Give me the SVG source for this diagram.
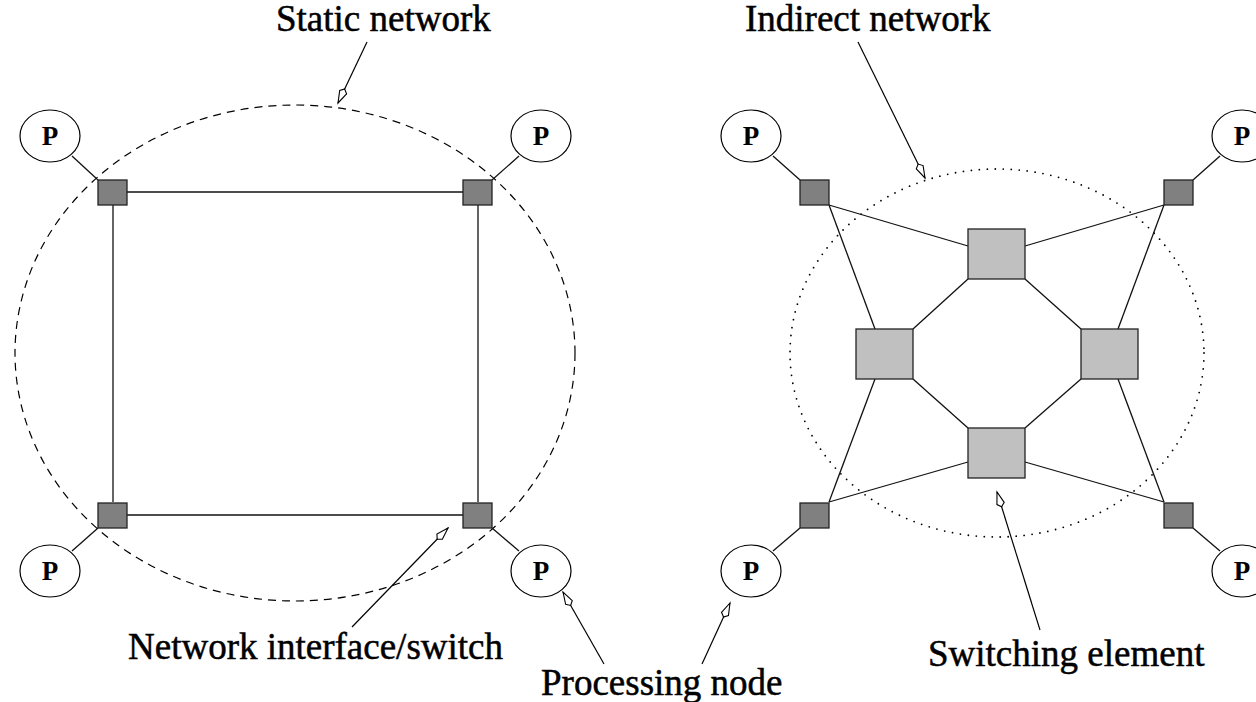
<svg xmlns="http://www.w3.org/2000/svg" width="1256" height="702" viewBox="0 0 1256 702">
  <style>
    .label { font-family: "Liberation Serif", "Times New Roman", serif; font-size: 37px; fill: #000; stroke: #000; stroke-width: 0.5; }
    .ptext { font-family: "Liberation Serif", "Times New Roman", serif; font-size: 27px; font-weight: bold; fill: #000; text-anchor: middle; }
    .proc { fill: #fff; stroke: #000; stroke-width: 1.2; }
    .iface { fill: #808080; stroke: #222; stroke-width: 1.3; }
    .switch { fill: #c0c0c0; stroke: #222; stroke-width: 1.3; }
    .link { stroke: #111; stroke-width: 1.3; fill: none; }
    .pointer { stroke: #000; stroke-width: 1.2; fill: none; marker-end: url(#kite); }
    .boundary-dashed { fill: none; stroke: #000; stroke-width: 1.2; stroke-dasharray: 8 6; }
    .boundary-dotted { fill: none; stroke: #000; stroke-width: 1.8; stroke-dasharray: 0 8; stroke-linecap: round; }
  </style>
  <defs>
    <marker id="kite" markerUnits="userSpaceOnUse" markerWidth="20" markerHeight="12" refX="0" refY="0" orient="auto" overflow="visible">
      <path d="M0,0 L-12,-3.8 L-15.5,0 L-12,3.8 Z" fill="#fff" stroke="#000" stroke-width="1.1"/>
    </marker>
  </defs>

  <rect width="1256" height="702" fill="#fff"/>

  <!-- network boundaries -->
  <g id="boundaries">
    <ellipse class="boundary-dashed" cx="295" cy="353" rx="280" ry="248"/>
    <ellipse class="boundary-dotted" cx="997" cy="353" rx="207" ry="184"/>
  </g>

  <!-- connectors -->
  <g id="connectors">
    <!-- static network: ring of interfaces -->
    <line class="link" x1="127" y1="192" x2="463" y2="192"/>
    <line class="link" x1="127" y1="515" x2="463" y2="515"/>
    <line class="link" x1="113" y1="205" x2="113" y2="502"/>
    <line class="link" x1="478" y1="205" x2="478" y2="502"/>
    <!-- static network: processors to interfaces -->
    <line class="link" x1="72" y1="156" x2="98" y2="180"/>
    <line class="link" x1="519" y1="156" x2="492" y2="180"/>
    <line class="link" x1="72" y1="551" x2="98" y2="528"/>
    <line class="link" x1="519" y1="551" x2="492" y2="528"/>

    <!-- indirect network: processors to interfaces -->
    <line class="link" x1="773" y1="156" x2="800" y2="180"/>
    <line class="link" x1="1220" y1="156" x2="1193" y2="180"/>
    <line class="link" x1="773" y1="551" x2="800" y2="528"/>
    <line class="link" x1="1220" y1="551" x2="1193" y2="528"/>
    <!-- interfaces to switching elements -->
    <line class="link" x1="829" y1="205" x2="968" y2="246"/>
    <line class="link" x1="829" y1="205" x2="875" y2="329"/>
    <line class="link" x1="1164" y1="205" x2="1025" y2="246"/>
    <line class="link" x1="1164" y1="205" x2="1118" y2="329"/>
    <line class="link" x1="829" y1="502" x2="875" y2="379"/>
    <line class="link" x1="829" y1="502" x2="968" y2="462"/>
    <line class="link" x1="1164" y1="502" x2="1118" y2="379"/>
    <line class="link" x1="1164" y1="502" x2="1025" y2="462"/>
    <!-- switching elements ring -->
    <line class="link" x1="968" y1="279" x2="913" y2="329"/>
    <line class="link" x1="913" y1="379" x2="968" y2="428"/>
    <line class="link" x1="1025" y1="428" x2="1081" y2="379"/>
    <line class="link" x1="1081" y1="329" x2="1025" y2="279"/>

    <!-- label pointers -->
    <line class="pointer" x1="367" y1="42" x2="338" y2="103"/>
    <line class="pointer" x1="352" y1="627" x2="448" y2="528"/>
    <line class="pointer" x1="604" y1="664" x2="563" y2="592"/>
    <line class="pointer" x1="702" y1="664" x2="730" y2="603"/>
    <line class="pointer" x1="858" y1="42" x2="925" y2="178"/>
    <line class="pointer" x1="1040" y1="630" x2="997" y2="492"/>
  </g>

  <!-- static network nodes -->
  <g id="static-p-tl"><ellipse class="proc" cx="50" cy="136" rx="30" ry="26"/><text class="ptext" x="50" y="145">P</text></g>
  <g id="static-p-tr"><ellipse class="proc" cx="541" cy="136" rx="30" ry="26"/><text class="ptext" x="541" y="145">P</text></g>
  <g id="static-p-bl"><ellipse class="proc" cx="50" cy="571" rx="30" ry="26"/><text class="ptext" x="50" y="580">P</text></g>
  <g id="static-p-br"><ellipse class="proc" cx="541" cy="571" rx="30" ry="26"/><text class="ptext" x="541" y="580">P</text></g>
  <g id="static-if-tl"><rect class="iface" x="98" y="180" width="29" height="25"/></g>
  <g id="static-if-tr"><rect class="iface" x="463" y="180" width="29" height="25"/></g>
  <g id="static-if-bl"><rect class="iface" x="98" y="503" width="29" height="25"/></g>
  <g id="static-if-br"><rect class="iface" x="463" y="503" width="29" height="25"/></g>

  <!-- indirect network nodes -->
  <g id="indirect-p-tl"><ellipse class="proc" cx="751" cy="136" rx="30" ry="26"/><text class="ptext" x="751" y="145">P</text></g>
  <g id="indirect-p-tr"><ellipse class="proc" cx="1242" cy="136" rx="30" ry="26"/><text class="ptext" x="1242" y="145">P</text></g>
  <g id="indirect-p-bl"><ellipse class="proc" cx="751" cy="571" rx="30" ry="26"/><text class="ptext" x="751" y="580">P</text></g>
  <g id="indirect-p-br"><ellipse class="proc" cx="1242" cy="571" rx="30" ry="26"/><text class="ptext" x="1242" y="580">P</text></g>
  <g id="indirect-if-tl"><rect class="iface" x="800" y="180" width="29" height="25"/></g>
  <g id="indirect-if-tr"><rect class="iface" x="1164" y="180" width="29" height="25"/></g>
  <g id="indirect-if-bl"><rect class="iface" x="800" y="503" width="29" height="25"/></g>
  <g id="indirect-if-br"><rect class="iface" x="1164" y="503" width="29" height="25"/></g>
  <g id="switch-top"><rect class="switch" x="968" y="229" width="57" height="50"/></g>
  <g id="switch-left"><rect class="switch" x="856" y="329" width="57" height="50"/></g>
  <g id="switch-right"><rect class="switch" x="1081" y="329" width="57" height="50"/></g>
  <g id="switch-bottom"><rect class="switch" x="968" y="428" width="57" height="50"/></g>

  <!-- labels -->
  <g id="labels">
    <text class="label" x="276" y="31">Static network</text>
    <text class="label" x="745" y="31">Indirect network</text>
    <text class="label" x="128" y="659">Network interface/switch</text>
    <text class="label" x="541" y="695">Processing node</text>
    <text class="label" x="928" y="666">Switching element</text>
  </g>
</svg>
